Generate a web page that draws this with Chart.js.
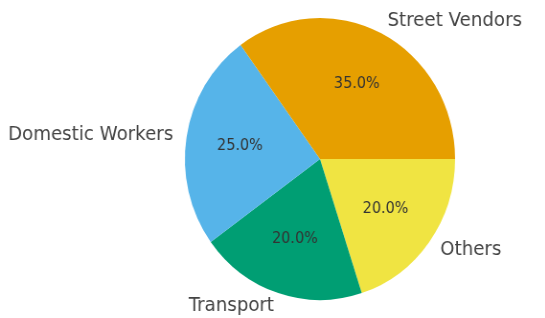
<!DOCTYPE html>
<html lang="en">
<head>
  <meta charset="UTF-8">
  <title>Informal Workers by Sector</title>
  <script src="https://cdn.jsdelivr.net/npm/chart.js@4.4.0/dist/chart.umd.min.js"></script>
  <style>
    body { margin: 0; padding: 0; background: #fff; overflow: hidden; }
    /* the reference is slightly squeezed horizontally */
    .wrap { width: 569px; height: 318px; transform: scaleX(0.958); transform-origin: 0 0; }
  </style>
</head>
<body>
  <div class="wrap"><canvas id="pieChart"></canvas></div>

  <script>
    var categories = ['Street Vendors', 'Domestic Workers', 'Transport', 'Others'];
    var shares = [35, 25, 20, 20];
    var colors = ['#E69F00', '#56B4E9', '#009E73', '#F0E442'];

    // matplotlib goes counter-clockwise from 3 o'clock, Chart.js clockwise -> reverse
    var labelsCw = categories.slice().reverse();
    var sharesCw = shares.slice().reverse();
    var colorsCw = colors.slice().reverse();

    var pieLabels = {
      id: 'pieLabels',
      afterDatasetsDraw(chart) {
        var ctx = chart.ctx;
        var meta = chart.getDatasetMeta(0);
        var total = sharesCw.reduce((a, b) => a + b, 0);
        meta.data.forEach((arc, i) => {
          var p = arc.getProps(['x', 'y', 'startAngle', 'endAngle', 'outerRadius'], true);
          var mid = (p.startAngle + p.endAngle) / 2;
          var c = Math.cos(mid), s = Math.sin(mid);
          ctx.save();
          ctx.textBaseline = 'middle';
          // percentage inside
          ctx.font = '15px "DejaVu Sans"';
          ctx.fillStyle = '#333';
          ctx.textAlign = 'center';
          ctx.fillText((sharesCw[i] / total * 100).toFixed(1) + '%', p.x + c * p.outerRadius * 0.6, p.y + s * p.outerRadius * 0.6);
          // category outside
          ctx.font = '19px "DejaVu Sans"';
          ctx.fillStyle = '#444';
          ctx.textAlign = c > 0.001 ? 'left' : (c < -0.001 ? 'right' : 'center');
          ctx.fillText(labelsCw[i], p.x + c * p.outerRadius * 1.1, p.y + s * p.outerRadius * 1.1);
          ctx.restore();
        });
      }
    };

    new Chart(document.getElementById('pieChart'), {
      type: 'pie',
      data: {
        labels: labelsCw,
        datasets: [{
          data: sharesCw,
          backgroundColor: colorsCw,
          borderWidth: 0
        }]
      },
      options: {
        responsive: true,
        maintainAspectRatio: false,
        animation: false,
        rotation: 90,
        layout: { padding: { left: 193, right: 94, top: 18, bottom: 18 } },
        plugins: {
          legend: { display: false },
          tooltip: { enabled: false }
        }
      },
      plugins: [pieLabels]
    });
  </script>
</body>
</html>
